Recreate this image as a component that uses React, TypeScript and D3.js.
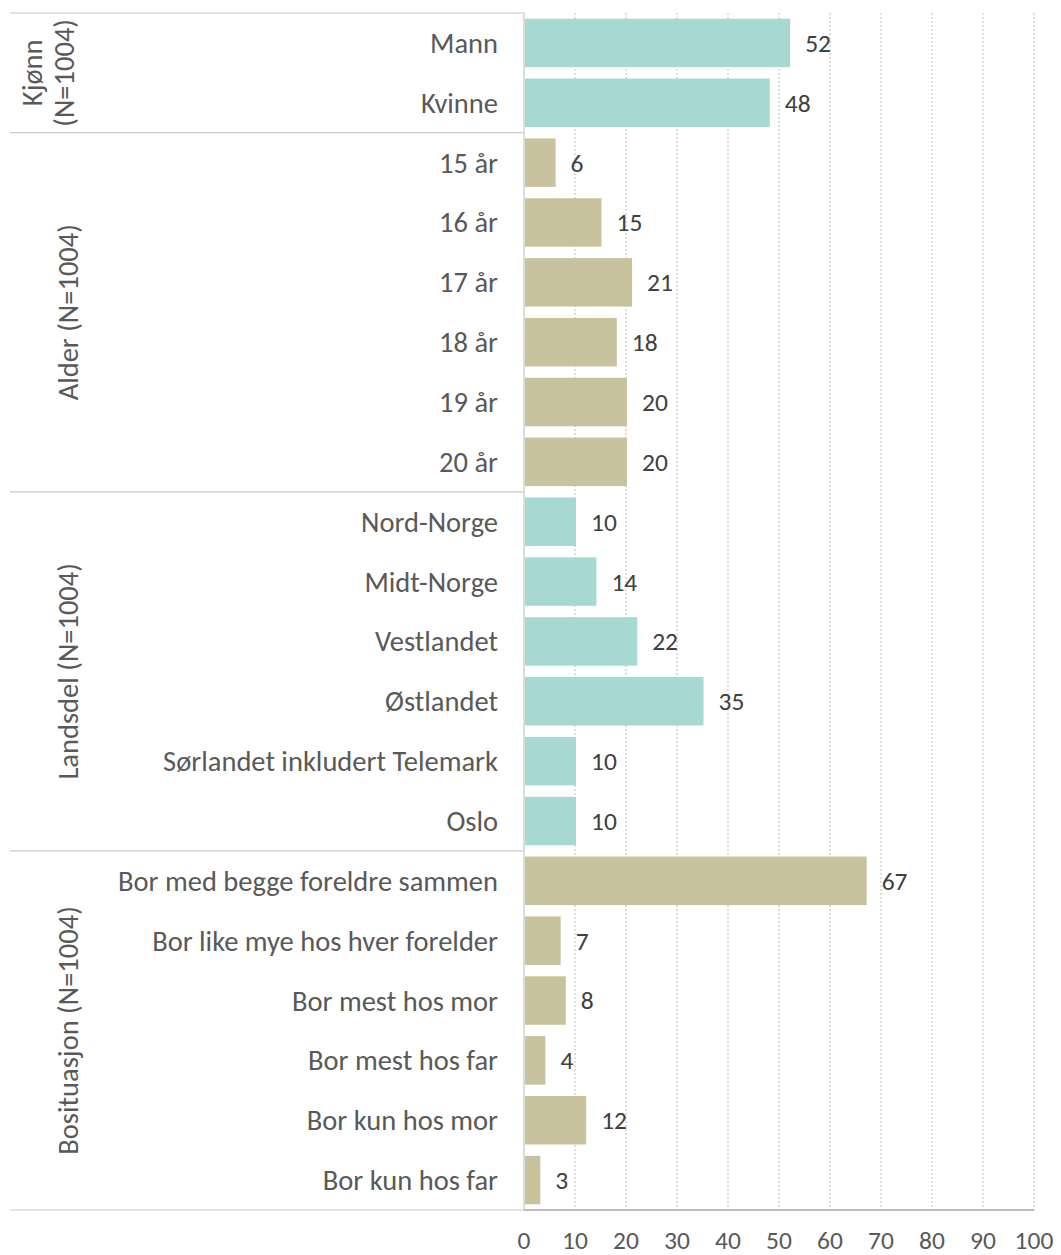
import React from "react";
import * as d3 from "d3";

const categories = [
  "Mann", "Kvinne",
  "15 år", "16 år", "17 år", "18 år", "19 år", "20 år",
  "Nord-Norge", "Midt-Norge", "Vestlandet", "Østlandet", "Sørlandet inkludert Telemark", "Oslo",
  "Bor med begge foreldre sammen", "Bor like mye hos hver forelder", "Bor mest hos mor", "Bor mest hos far", "Bor kun hos mor", "Bor kun hos far",
];
const values = [52, 48, 6, 15, 21, 18, 20, 20, 10, 14, 22, 35, 10, 10, 67, 7, 8, 4, 12, 3];
const groupNames = [["Kjønn", "(N=1004)"], ["Alder (N=1004)"], ["Landsdel (N=1004)"], ["Bosituasjon (N=1004)"]];
const groupSizes = [2, 6, 6, 6];
const groupColors = ["#a8d8d2", "#c9c29e", "#a8d8d2", "#c9c29e"];
const xTicks = [0, 10, 20, 30, 40, 50, 60, 70, 80, 90, 100];

export default function App() {
  const W = 1061, H = 1255;
  const left = 524, right = 1034, top = 13, bottom = 1210;
  const x = d3.scaleLinear().domain([0, 100]).range([left, right]);
  const y = d3.scaleBand<number>().domain(d3.range(categories.length)).range([top, bottom]).paddingInner(0.19).paddingOuter(0.095);
  const groupIdx: number[] = [];
  groupSizes.forEach((s, g) => { for (let i = 0; i < s; i++) groupIdx.push(g); });
  const starts = [0];
  groupSizes.forEach((s, g) => starts.push(starts[g] + s));
  const yb = (i: number) => top + (bottom - top) * (i / categories.length);
  const font = "Carlito, Calibri, 'Open Sans', sans-serif";
  const labelSize = 28.5;
  const numSize = 25.5;
  return (
    <svg width={W} height={H} style={{ display: "block", position: "absolute", left: 0, top: 0 }} fontFamily={font}>
      <rect width={W} height={H} fill="#fff" />
      {xTicks.slice(1).map((t) => (
        <line key={t} x1={x(t)} x2={x(t)} y1={top} y2={bottom} stroke="#c8c8c8" strokeWidth={1.2} strokeDasharray="2,2" />
      ))}
      {starts.map((s, i) => (
        <line key={i} x1={10} x2={left} y1={yb(s)} y2={yb(s)} stroke="#c8c8c8" strokeWidth={1.2} />
      ))}
      <line x1={left} x2={left} y1={top} y2={bottom} stroke="#d0d0d0" strokeWidth={1.5} />
      <line x1={left} x2={right} y1={bottom} y2={bottom} stroke="#a6a6a6" strokeWidth={1.5} />
      {values.map((v, i) => (
        <g key={i}>
          <rect x={x(0) + 1} y={y(i)!} width={x(v) - x(0)} height={y.bandwidth()} fill={groupColors[groupIdx[i]]} />
          <text x={x(v) + 16} y={y(i)! + y.bandwidth() / 2} dy="0.35em" fontSize={numSize} fill="#404040">{v}</text>
          <text x={498} y={y(i)! + y.bandwidth() / 2} dy="0.35em" fontSize={labelSize} fill="#595959" textAnchor="end">{categories[i]}</text>
        </g>
      ))}
      {groupNames.map((lines, g) => {
        const cy = (yb(starts[g]) + yb(starts[g + 1])) / 2;
        const cx = lines.length === 1 ? 68 : 48;
        return (
          <text key={g} transform={`translate(${cx},${cy}) rotate(-90)`} fontSize={labelSize} fill="#595959" textAnchor="middle">
            {lines.map((l, k) => (
              <tspan key={k} x={0} dy={k === 0 ? (lines.length === 1 ? "0.35em" : "-0.2em") : "1.1em"}>{l}</tspan>
            ))}
          </text>
        );
      })}
      {xTicks.map((t) => (
        <text key={t} x={x(t)} y={1240} dy="0.35em" fontSize={numSize} fill="#595959" textAnchor="middle">{t}</text>
      ))}
    </svg>
  );
}
